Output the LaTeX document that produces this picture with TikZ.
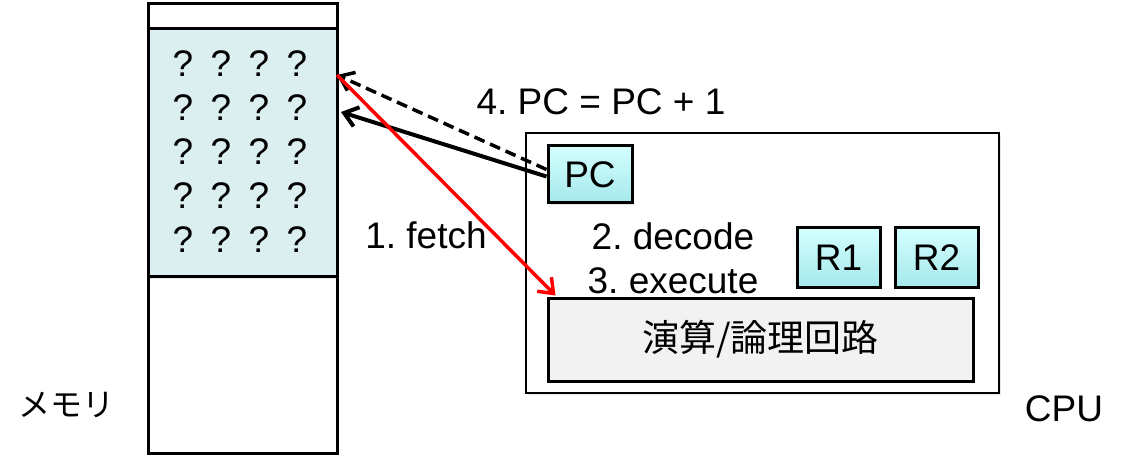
\documentclass[tikz,border=0pt]{standalone}
\usepackage{fontspec}
\setmainfont{Liberation Sans}
\newfontfamily\jpfont{Noto Sans CJK JP}
\usetikzlibrary{arrows.meta,positioning,shadows}
\definecolor{memblue}{RGB}{219,238,240}
\definecolor{regtop}{RGB}{212,255,255}
\definecolor{regbot}{RGB}{165,232,235}
\definecolor{alugray}{RGB}{242,242,242}
\frenchspacing

\begin{document}
\begin{tikzpicture}[
		x=1pt, y=-1pt,
		every node/.style={font=\fontsize{37}{44}\selectfont, inner sep=0pt},
		box/.style={draw, rectangle, line width=3pt, fill=white,
			drop shadow={shadow xshift=2pt, shadow yshift=-2pt, opacity=.2}},
		reg/.style={box, top color=regtop, bottom color=regbot},
		tip/.style={-{Straight Barb[length=13pt,width=20pt]}}
	]
	\useasboundingbox (0,0) rectangle (1127,465);

	\node [box, minimum width=189pt, minimum height=449pt] (mem) at (242.5,228.5) {} ;
	\node [box, fill=memblue, minimum width=189pt, minimum height=248pt, anchor=north] (data) at (242.5,27) {} ;
	\foreach \r in {1,...,5}
		\foreach \c in {1,...,4}
			\node (q\r\c) at ({145+38*\c}, {20+44*\r}) {?} ;
	\node [font=\fontsize{32}{38}\selectfont] (memname) at (66,405) {\jpfont メモリ} ;

	\node [box, line width=2.5pt, minimum width=473pt, minimum height=260pt] (cpu) at (762.5,263) {} ;
	\node [reg, minimum width=84pt, minimum height=57pt] (pc) at (590,174.5) {PC} ;
	\node [reg, minimum width=83pt, minimum height=59pt] (r1) at (838.5,257.5) {R1} ;
	\node [reg, minimum width=83pt, minimum height=59pt, right=12pt of r1] (r2) {R2} ;
	\node [box, fill=alugray, minimum width=425pt, minimum height=83pt] (alu) at (760.5,339.5) {\jpfont 演算/論理回路} ;
	\node [anchor=base] (cpuname) at (1064,421) {CPU} ;

	\node [anchor=base] (update) at (601,115) {4. PC = PC + 1} ;
	\node [anchor=base] (fetch) at (426,248) {1. fetch} ;
	\node [anchor=base] (decode) at (673,249) {2. decode} ;
	\node [anchor=base] (execute) at (673,293) {3. execute} ;

	\coordinate (m1) at (337,75) ;
	\coordinate (m2) at (341,112) ;

	\draw [tip, dashed, dash pattern=on 11pt off 6pt, line width=3.5pt] ([yshift=5pt]pc.west) -- (m1) ;
	\draw [tip, line width=4pt] ([yshift=-2pt]pc.west) -- (m2) ;
	\draw [tip, red, line width=3.5pt] (m1) -- ([xshift=9pt,yshift=1pt]alu.north west) ;
\end{tikzpicture}
\end{document}
